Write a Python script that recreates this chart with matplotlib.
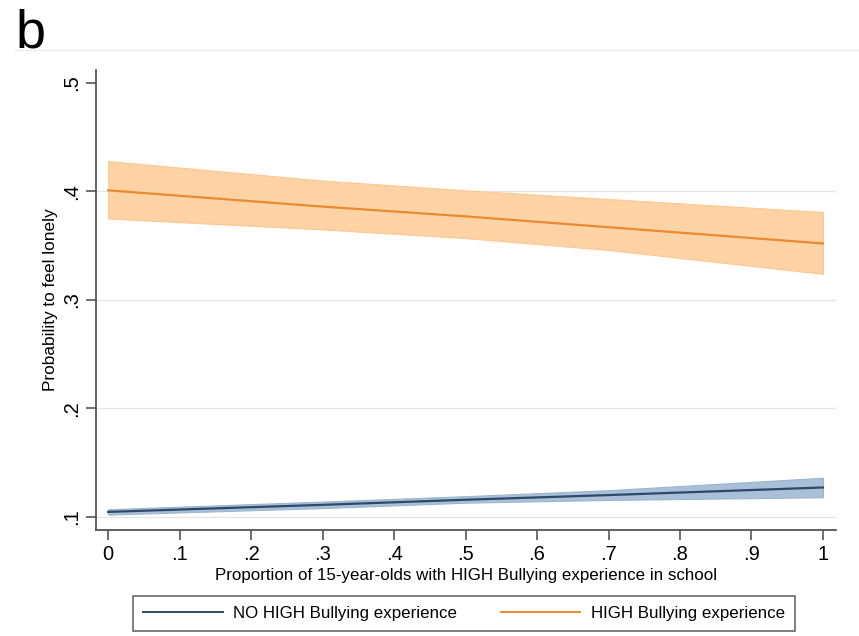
import numpy as np
import matplotlib.pyplot as plt
from matplotlib.lines import Line2D

plt.rcParams['font.family'] = ['Liberation Sans', 'DejaVu Sans']

# predicted probabilities with 95% CI
prop = [0.0, 0.3, 0.5, 0.7, 1.0]

high_mean = [0.401, 0.386, 0.377, 0.367, 0.352]
high_lo = [0.375, 0.365, 0.357, 0.346, 0.324]
high_hi = [0.428, 0.410, 0.401, 0.393, 0.381]

no_mean = [0.1045, 0.111, 0.1157, 0.120, 0.127]
no_lo = [0.102, 0.108, 0.113, 0.1155, 0.118]
no_hi = [0.107, 0.114, 0.119, 0.1245, 0.136]

xticks = [0, .1, .2, .3, .4, .5, .6, .7, .8, .9, 1]
xticklabels = ['0', '.1', '.2', '.3', '.4', '.5', '.6', '.7', '.8', '.9', '1']
yticks = [.1, .2, .3, .4, .5]
yticklabels = ['.1', '.2', '.3', '.4', '.5']

navy = '#2c4a68'
navy_fill = '#a9c0d8'
orange = '#ea8a30'
orange_fill = '#fdd3a5'

fig = plt.figure(figsize=(8.59, 6.36), dpi=100)
ax = fig.add_axes([0.112, 0.167, 0.861, 0.723])

# gridlines
for yv in [.1, .2, .3, .4]:
    ax.axhline(yv, color='#e6e6e6', lw=1, zorder=0)

ax.fill_between(prop, no_lo, no_hi, color=navy_fill, edgecolor='#9db5cf', lw=0.8, zorder=2)
ax.plot(prop, no_mean, color=navy, lw=1.6, zorder=3)
ax.fill_between(prop, high_lo, high_hi, color=orange_fill, edgecolor='#fbc891', lw=0.8, zorder=2)
ax.plot(prop, high_mean, color=orange, lw=1.6, zorder=3)

ax.set_xlim(-0.0168, 1.018)
ax.set_ylim(0.088, 0.512)
ax.set_xticks(xticks)
ax.set_xticklabels(xticklabels, fontsize=14.5)
ax.set_yticks(yticks)
ax.set_yticklabels(yticklabels, fontsize=14.5, rotation=90, va='center')

for s in ['top', 'right']:
    ax.spines[s].set_visible(False)
for s in ['left', 'bottom']:
    ax.spines[s].set_color('#555555')
    ax.spines[s].set_linewidth(1.3)
ax.tick_params(axis='both', length=7, width=1.2, color='#555555', pad=4)

ax.set_xlabel('Proportion of 15-year-olds with HIGH Bullying experience in school',
              fontsize=12.2, labelpad=3)
ax.set_ylabel('Probability to feel lonely', fontsize=12.4, labelpad=3)

handles = [Line2D([], [], color=navy, lw=1.4), Line2D([], [], color=orange, lw=1.4)]
leg = fig.legend(handles, ['NO HIGH Bullying experience', 'HIGH Bullying experience'],
                 loc='center', bbox_to_anchor=(0.540, 0.0354),
                 ncol=2, fontsize=12.2, handlelength=4.7, handletextpad=0.6,
                 columnspacing=2.6, borderpad=0.6,
                 frameon=True, fancybox=False)
leg.get_frame().set_edgecolor('#444444')
leg.get_frame().set_linewidth(1.2)

# panel letter and rule
fig.text(0.018, 0.925, 'b', fontsize=39, ha='left', va='baseline')
fig.add_artist(Line2D([0.018, 1.0], [0.921, 0.921], color='#ececec', lw=1))

fig.savefig('out.png', dpi=100)
